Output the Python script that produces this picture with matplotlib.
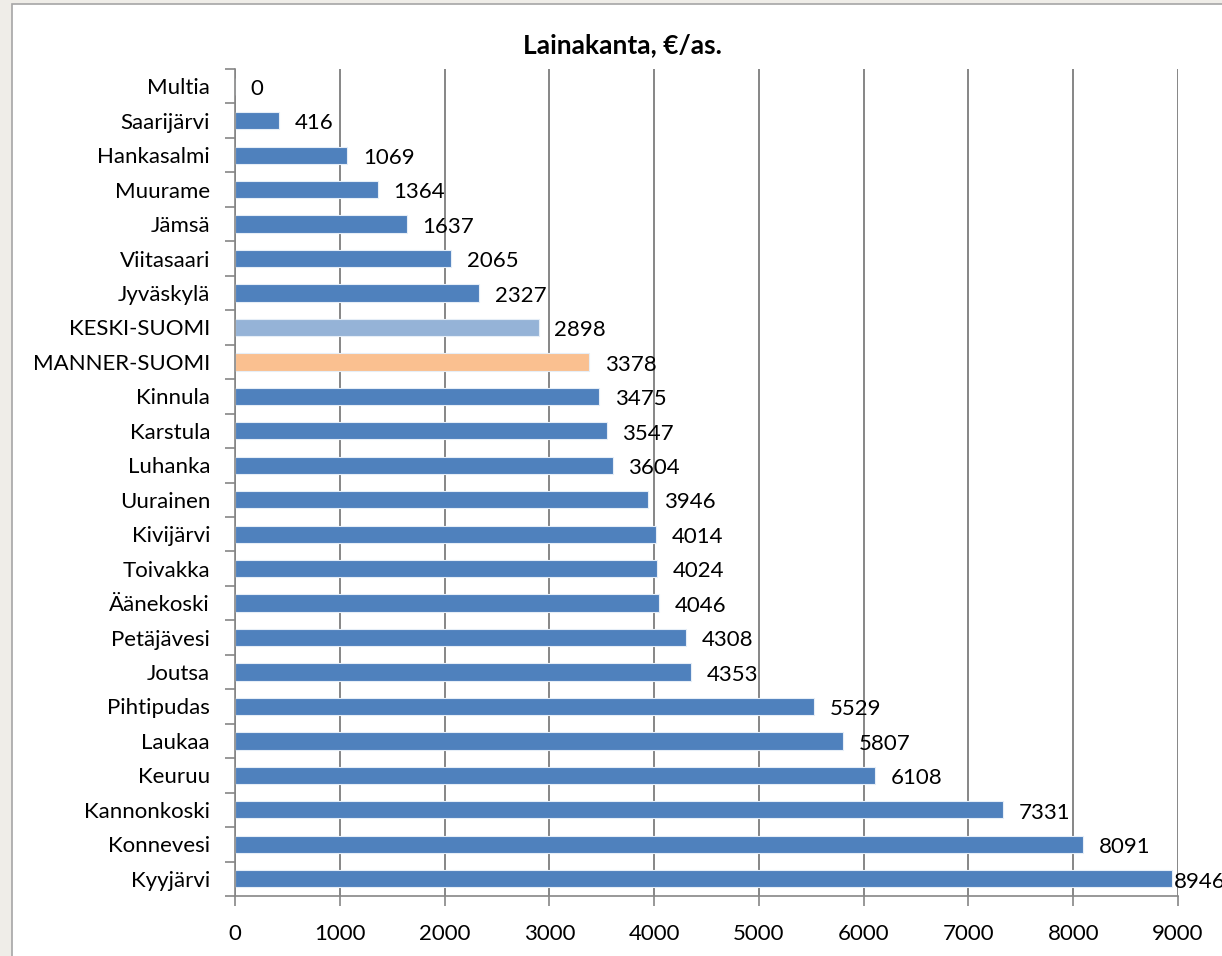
import matplotlib.pyplot as plt
from matplotlib.patches import Rectangle
import numpy as np

plt.rcParams['font.family'] = ['Lato', 'DejaVu Sans']

# data, top to bottom as in the chart
kunnat = ['Multia', 'Saarijärvi', 'Hankasalmi', 'Muurame', 'Jämsä', 'Viitasaari',
          'Jyväskylä', 'KESKI-SUOMI', 'MANNER-SUOMI', 'Kinnula', 'Karstula', 'Luhanka',
          'Uurainen', 'Kivijärvi', 'Toivakka', 'Äänekoski', 'Petäjävesi', 'Joutsa',
          'Pihtipudas', 'Laukaa', 'Keuruu', 'Kannonkoski', 'Konnevesi', 'Kyyjärvi']
lainakanta = [0, 416, 1069, 1364, 1637, 2065, 2327, 2898, 3378, 3475, 3547, 3604,
              3946, 4014, 4024, 4046, 4308, 4353, 5529, 5807, 6108, 7331, 8091, 8946]
x_ticks = [0, 1000, 2000, 3000, 4000, 5000, 6000, 7000, 8000, 9000]

def bar_color(name):
    if name == 'KESKI-SUOMI':
        return '#95B3D7'
    if name == 'MANNER-SUOMI':
        return '#FAC090'
    return '#4F81BD'

colors = [bar_color(k) for k in kunnat]

fig = plt.figure(figsize=(12.22, 9.56), dpi=100)
fig.patch.set_facecolor('#EFEDE8')
# white chart area with grey border (cut off at right/bottom)
fig.patches.append(Rectangle((12 / 1222, -0.01), 1.1, (956 - 4) / 956 + 0.01,
                             transform=fig.transFigure, facecolor='white',
                             edgecolor='#A6A6A6', linewidth=1.2, zorder=-5))

ax = fig.add_axes([235 / 1222, 1 - 896 / 956, 943 / 1222, (896 - 69) / 956])
ax.set_facecolor('none')
ax.set_zorder(2)

y = np.arange(len(kunnat))
ax.barh(y, lainakanta, height=0.5, color=colors, edgecolor='#E6EEF7',
        linewidth=0.8, zorder=2)

# data labels; excel pulls the last one back inside the plot area
for yi, v in zip(y, lainakanta):
    ax.text(min(v + 150, 8962), yi + 0.08, str(v), va='center', ha='left',
            fontsize=16, color='black', clip_on=False)

ax.set_xlim(0, 9000)
ax.set_ylim(len(kunnat) - 0.5, -0.5)
ax.set_xticks(x_ticks)
ax.set_xticklabels([str(t) for t in x_ticks], fontsize=16)
ax.xaxis.grid(True, color='#868686', linewidth=1.4, zorder=1)
ax.set_axisbelow(True)

# category ticks at boundaries, labels at centres
ax.set_yticks(np.arange(len(kunnat) + 1) - 0.5)
ax.set_yticklabels([])
ax.set_yticks(y, minor=True)
ax.set_yticklabels(kunnat, minor=True, fontsize=16)
ax.tick_params(axis='y', which='major', length=7, width=1.2, color='#868686')
ax.tick_params(axis='y', which='minor', length=0, pad=18)
ax.tick_params(axis='x', length=7, width=1.2, color='#868686', pad=13)

for s in ['top', 'right']:
    ax.spines[s].set_visible(False)
for s in ['left', 'bottom']:
    ax.spines[s].set_color('#868686')
    ax.spines[s].set_linewidth(1.2)

fig.text(622 / 1222, 1 - 45 / 956, 'Lainakanta, €/as.', ha='center', va='center',
         fontsize=19, fontweight='bold')

plt.savefig('out.png', dpi=100)
